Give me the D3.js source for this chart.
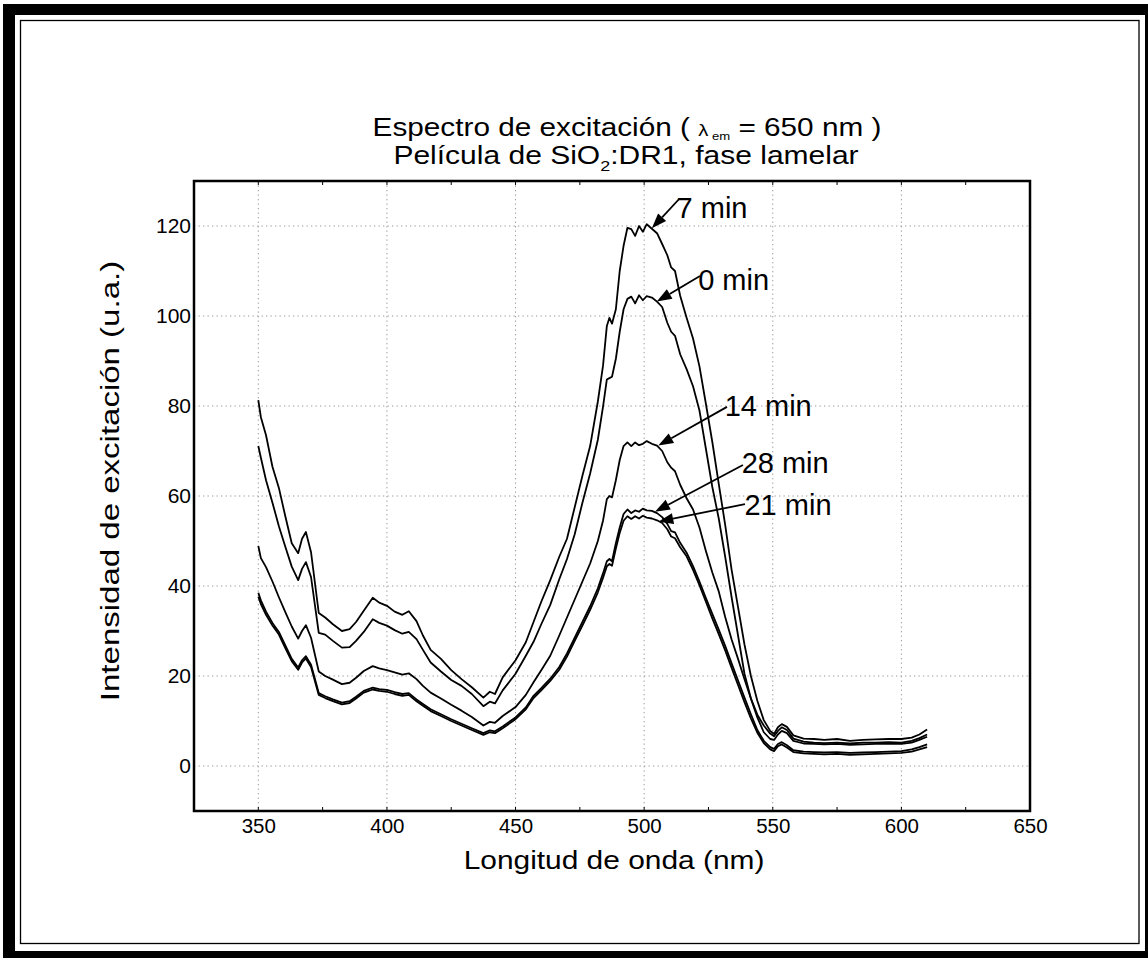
<!DOCTYPE html>
<html>
<head>
<meta charset="utf-8">
<script src="https://cdn.jsdelivr.net/npm/d3@7"></script>
<style>
  body { margin: 0; background: #fff; }
  svg text { font-family: "Liberation Sans", Arial, sans-serif; fill: #000; }
</style>
</head>
<body>
<script>
// wavelengths (nm) shared by all five spectra
var wavelength = [350, 351, 353, 355.5, 358, 360.5, 363, 365.5, 367, 368.5, 370.5, 373.5, 376, 379, 382.5,
  385.5, 388, 391, 394.5, 397, 400, 403, 406, 408.5, 411.5, 414, 417, 421, 425, 429, 433, 437.5, 440, 442,
  445, 450, 454, 457, 460, 463.5, 467, 470, 473, 476, 479, 482, 484, 485.5, 486.5, 487.5, 489, 490.5, 492,
  493.5, 495, 496.5, 498, 499.5, 501, 503, 505, 507, 509, 510.5, 512, 514, 516.5, 519, 521.5, 524, 526.5,
  529, 531.5, 534, 536.5, 539, 541.5, 544, 546.5, 549, 550.5, 552, 553.5, 555.5, 558, 562, 566, 570, 575,
  580, 585, 590, 595, 600, 604, 607, 610];

// excitation intensity (u.a.) for each irradiation time
var int7 = [81.3, 77.5, 73.5, 66.5, 61.8, 55.5, 49.5, 47.3, 50.5, 52.0, 47.5, 34.0, 33.0, 31.5, 30.0,
  30.4, 32.0, 34.5, 37.4, 36.3, 35.6, 34.3, 33.6, 34.4, 32.2, 29.0, 25.8, 23.8, 21.3, 19.3, 17.5, 15.2, 16.5, 16.0,
  19.7, 23.5, 27.5, 32.0, 36.5, 41.3, 46.5, 50.5, 57.5, 64.5, 71.1, 81.0, 88.9, 97.8, 99.6, 98.3, 101.5, 110.0, 115.6,
  119.6, 119.3, 117.8, 120.0, 118.7, 120.4, 119.4, 118.4, 116.0, 113.5, 110.8, 110.0, 104.5, 99.6, 95.0, 88.8, 80.5, 72.0,
  62.7, 53.6, 43.6, 35.3, 27.0, 20.0, 14.5, 10.2, 7.8, 7.1, 8.6, 9.3, 8.7, 6.8, 6.1, 6.0, 5.8, 6.0,
  5.6, 5.8, 5.9, 6.0, 6.0, 6.3, 7.0, 8.1];

var int0 = [71.1, 68.5, 63.5, 58.5, 53.3, 48.7, 44.3, 41.3, 43.8, 45.3, 42.0, 29.6, 29.2, 27.8, 26.3,
  26.4, 27.8, 29.8, 32.6, 31.8, 31.2, 30.2, 29.4, 29.8, 28.2, 25.8, 23.0, 21.0, 19.1, 17.8, 16.0, 13.3, 14.3, 13.9,
  16.8, 20.5, 24.5, 27.6, 31.5, 35.8, 41.5, 46.0, 51.5, 58.5, 65.0, 72.5, 79.8, 85.9, 86.2, 86.5, 90.5, 96.5, 101.5,
  103.8, 104.3, 102.8, 104.6, 103.5, 104.4, 104.1, 103.2, 102.0, 98.5, 96.5, 95.6, 91.5, 88.2, 84.4, 79.0, 70.5, 62.0,
  55.0, 46.5, 37.5, 29.0, 20.5, 15.0, 11.4, 9.0, 7.2, 6.6, 7.8, 8.6, 8.0, 6.1, 5.4, 5.2, 5.1, 5.2,
  5.0, 5.2, 5.2, 5.3, 5.2, 5.6, 6.2, 7.0];

var int14 = [48.9, 46.2, 44.2, 41.0, 37.5, 34.2, 31.0, 28.3, 30.0, 31.3, 28.5, 21.0, 20.0, 19.2, 18.2,
  18.5, 19.6, 21.1, 22.2, 21.7, 21.3, 20.8, 20.3, 20.6, 19.3, 17.8, 16.3, 15.0, 13.6, 12.3, 10.9, 9.0, 9.8, 9.6,
  11.1, 13.1, 15.8, 18.6, 21.3, 24.5, 29.0, 33.0, 37.0, 41.0, 45.0, 50.0, 54.5, 59.3, 60.0, 59.7, 63.5, 68.0, 71.1,
  71.9, 71.1, 71.9, 71.3, 71.6, 72.2, 71.6, 71.2, 70.0, 67.5, 66.3, 65.5, 62.5, 59.5, 57.0, 53.0, 47.8, 43.0,
  38.8, 33.1, 28.1, 23.8, 19.3, 15.0, 10.8, 7.5, 6.0, 5.8, 7.0, 7.8, 7.3, 5.6, 5.0, 4.9, 4.8, 4.9,
  4.7, 4.8, 4.9, 5.0, 4.9, 5.2, 5.8, 6.5];

var int28 = [38.5, 36.8, 34.3, 31.8, 29.8, 26.8, 23.8, 21.9, 23.5, 24.4, 22.5, 16.2, 15.5, 14.8, 14.1,
  14.4, 15.4, 16.7, 17.4, 17.1, 16.9, 16.4, 16.0, 16.2, 14.8, 13.8, 12.6, 11.5, 10.4, 9.4, 8.4, 7.3, 7.9, 7.7,
  8.8, 10.8, 13.0, 15.6, 17.3, 19.4, 22.0, 25.0, 28.5, 32.0, 35.5, 39.5, 42.8, 45.5, 46.0, 45.5, 49.5, 53.0, 56.0,
  57.0, 56.2, 56.8, 56.5, 57.2, 56.8, 56.7, 56.2, 55.3, 53.8, 52.2, 51.9, 49.6, 47.4, 44.4, 41.0, 37.3, 33.8,
  30.3, 26.7, 22.8, 19.0, 15.2, 11.5, 8.0, 5.6, 4.2, 3.8, 4.9, 5.3, 4.6, 3.5, 3.2, 3.1, 3.0, 3.1,
  2.9, 3.0, 3.1, 3.2, 3.3, 3.7, 4.2, 4.8];

var int21 = [37.6, 36.0, 33.6, 31.2, 29.2, 26.2, 23.3, 21.4, 23.0, 23.9, 22.0, 15.8, 15.1, 14.4, 13.7,
  14.0, 15.0, 16.3, 17.0, 16.7, 16.5, 16.0, 15.6, 15.8, 14.4, 13.4, 12.2, 11.1, 10.0, 9.0, 8.0, 6.9, 7.5, 7.3,
  8.4, 10.4, 12.6, 15.1, 16.8, 18.9, 21.4, 24.3, 27.8, 31.2, 34.7, 38.6, 41.8, 44.4, 44.9, 44.5, 48.3, 51.8, 54.5,
  55.5, 54.9, 55.5, 55.0, 55.6, 55.2, 55.0, 54.6, 54.0, 52.6, 51.0, 50.6, 48.6, 46.6, 43.6, 40.2, 36.5, 32.8,
  29.3, 25.7, 21.8, 18.0, 14.2, 10.6, 7.4, 5.1, 3.7, 3.3, 4.4, 4.8, 4.1, 3.1, 2.8, 2.7, 2.6, 2.7,
  2.5, 2.6, 2.7, 2.8, 2.9, 3.2, 3.7, 4.2];

var seriesNames = ["0 min", "7 min", "14 min", "21 min", "28 min"];
var seriesValues = [int0, int7, int14, int21, int28];

// annotation: arrow tip, arrow tail and text anchor in data units (nm, u.a.)
var labelTip  = [[504.9, 103.2], [503.0, 119.5], [505.5, 71.2], [505.5, 54.3], [504.2, 56.5]];
var labelTail = [[521.7, 108.9], [513.6, 126.0], [532.2, 79.8], [539.2, 58.2], [538.4, 66.9]];
var labelText = [[521.0, 105.8], [512.6, 121.8], [531.3, 77.8], [539.0, 55.8], [537.9, 65.1]];

var xTicks = [350, 400, 450, 500, 550, 600, 650];
var yTicks = [0, 20, 40, 60, 80, 100, 120];

var W = 1148, H = 958;
var svg = d3.select("body").append("svg")
    .attr("width", W)
    .attr("height", H);

// frame
svg.append("rect").attr("x", 0).attr("y", 0).attr("width", W).attr("height", H).attr("fill", "#fff");
svg.append("rect").attr("x", 3).attr("y", 4).attr("width", W).attr("height", H).attr("fill", "#000");
svg.append("rect").attr("x", 15).attr("y", 15).attr("width", 1130).attr("height", 936).attr("fill", "#fff");
svg.append("rect").attr("x", 20.5).attr("y", 20.5).attr("width", 1118.5).attr("height", 923)
    .attr("fill", "none").attr("stroke", "#000").attr("stroke-width", 1.3);

var x = d3.scaleLinear().domain([325, 650]).range([194, 1030]);
var y = d3.scaleLinear().domain([-10, 130]).range([811, 181]);

// dotted grid
svg.append("g").selectAll("line").data(xTicks.slice(0, -1)).join("line")
    .attr("x1", d => x(d)).attr("x2", d => x(d))
    .attr("y1", y(130)).attr("y2", y(-10))
    .attr("stroke", "#999").attr("stroke-width", 1).attr("stroke-dasharray", "1.3,3.2");
svg.append("g").selectAll("line").data(yTicks).join("line")
    .attr("x1", x(325)).attr("x2", x(650))
    .attr("y1", d => y(d)).attr("y2", d => y(d))
    .attr("stroke", "#999").attr("stroke-width", 1).attr("stroke-dasharray", "1.3,3.2");

// small inner ticks on top and bottom every 25 nm
var minor = d3.range(350, 650, 25);
svg.append("g").selectAll("line").data(minor).join("line")
    .attr("x1", d => x(d)).attr("x2", d => x(d))
    .attr("y1", y(-10)).attr("y2", y(-10) - 4)
    .attr("stroke", "#000").attr("stroke-width", 1);
svg.append("g").selectAll("line").data(minor).join("line")
    .attr("x1", d => x(d)).attr("x2", d => x(d))
    .attr("y1", y(130)).attr("y2", y(130) + 4)
    .attr("stroke", "#000").attr("stroke-width", 1);

// axes labels
var xAxis = svg.append("g")
    .attr("transform", "translate(0," + y(-10) + ")")
    .call(d3.axisBottom(x).tickValues(xTicks).tickSize(0).tickPadding(7));
xAxis.select(".domain").remove();
xAxis.selectAll("text").attr("font-size", 20.5).attr("font-family", null);

var yAxis = svg.append("g")
    .attr("transform", "translate(" + x(325) + ",0)")
    .call(d3.axisLeft(y).tickValues(yTicks).tickSize(0).tickPadding(3));
yAxis.select(".domain").remove();
yAxis.selectAll("text").attr("font-size", 21).attr("font-family", null);

// spectra
var line = d3.line()
    .x((d, i) => x(wavelength[i]))
    .y(d => y(d));

svg.append("g").selectAll("path").data(seriesValues).join("path")
    .attr("d", line)
    .attr("fill", "none")
    .attr("stroke", "#000")
    .attr("stroke-width", 1.8)
    .attr("stroke-linejoin", "round");

// plot box
svg.append("rect")
    .attr("x", x(325)).attr("y", y(130))
    .attr("width", x(650) - x(325)).attr("height", y(-10) - y(130))
    .attr("fill", "none").attr("stroke", "#000").attr("stroke-width", 2.5);

// annotations with arrows
seriesNames.forEach(function(name, i) {
  var tx = x(labelTip[i][0]), ty = y(labelTip[i][1]);
  var sx = x(labelTail[i][0]), sy = y(labelTail[i][1]);
  var ang = Math.atan2(ty - sy, tx - sx);
  var len = 15, hw = 5.5;
  var bx = tx - len * Math.cos(ang), by = ty - len * Math.sin(ang);
  svg.append("line")
      .attr("x1", sx).attr("y1", sy).attr("x2", bx).attr("y2", by)
      .attr("stroke", "#000").attr("stroke-width", 1.8);
  svg.append("path")
      .attr("d", "M" + tx + "," + ty +
                 "L" + (bx - hw * Math.sin(ang)) + "," + (by + hw * Math.cos(ang)) +
                 "L" + (bx + hw * Math.sin(ang)) + "," + (by - hw * Math.cos(ang)) + "Z")
      .attr("fill", "#000");
  svg.append("text")
      .attr("x", x(labelText[i][0])).attr("y", y(labelText[i][1]))
      .attr("font-size", 29)
      .text(name);
});

// titles (the original lettering is a little wider than Liberation Sans)
var t1 = svg.append("text")
    .attr("transform", "translate(627,136) scale(1.19,1)")
    .attr("text-anchor", "middle").attr("font-size", 25);
t1.append("tspan").text("Espectro de excitación ( ");
t1.append("tspan").attr("font-size", 17).text("λ");
t1.append("tspan").attr("font-size", 11).attr("dy", 4).text(" em");
t1.append("tspan").attr("dy", -4).text(" = 650 nm )");

var t2 = svg.append("text")
    .attr("transform", "translate(626,164) scale(1.2,1)")
    .attr("text-anchor", "middle").attr("font-size", 25);
t2.append("tspan").text("Película de SiO");
t2.append("tspan").attr("font-size", 15).attr("dy", 7).text("2");
t2.append("tspan").attr("dy", -7).text(":DR1, fase lamelar");

svg.append("text")
    .attr("transform", "translate(614,869) scale(1.15,1)")
    .attr("text-anchor", "middle").attr("font-size", 26)
    .text("Longitud de onda (nm)");

svg.append("text")
    .attr("transform", "translate(119,481) rotate(-90) scale(1.27,1)")
    .attr("text-anchor", "middle").attr("font-size", 26)
    .text("Intensidad de excitación (u.a.)");
</script>
</body>
</html>
